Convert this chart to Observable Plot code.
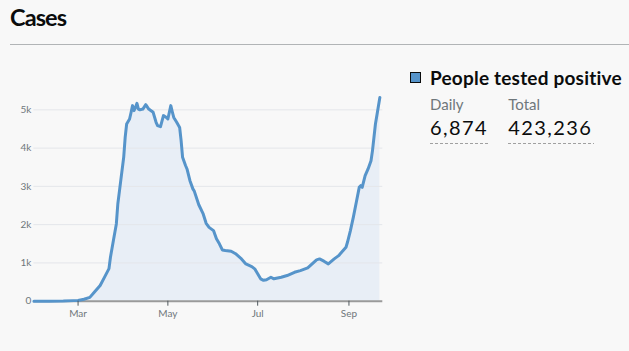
<!DOCTYPE html>
<html>
<head>
<meta charset="utf-8">
<script src="https://cdn.jsdelivr.net/npm/d3@7"></script>
<script src="https://cdn.jsdelivr.net/npm/@observablehq/plot@0.6"></script>
<style>
  html, body { margin: 0; padding: 0; }
  body { width: 629px; height: 351px; background: #f8f8f8; position: relative; overflow: hidden; font-family: Lato, "Noto Sans", sans-serif; color: #0b0c0c; }
  .abs { position: absolute; white-space: nowrap; line-height: 1; }
  #title { left: 10px; top: 6.3px; font-size: 23.5px; font-weight: 700; letter-spacing: -0.9px; }
  #rule { position: absolute; left: 10px; right: 0; top: 44px; height: 1px; background: #b1b4b6; }
  #swatch { position: absolute; left: 409.5px; top: 72.3px; width: 11px; height: 11px; box-sizing: border-box; background: #5694ca; border: 1px solid #0b0c0c; }
  #legend { left: 430px; top: 68.1px; font-size: 19px; font-weight: 700; letter-spacing: 0.2px; }
  .lab { top: 96.7px; font-size: 15px; color: #6f777b; }
  .num { top: 117.3px; font-size: 20px; color: #0b0c0c; letter-spacing: 1.4px; }
  .dash { position: absolute; top: 142.5px; height: 1px; background: repeating-linear-gradient(to right, #a0a0a0 0 3px, transparent 3px 5px); }
  #chart { position: absolute; left: 0; top: 50px; }
</style>
</head>
<body>
<div id="title" class="abs">Cases</div>
<div id="rule"></div>
<div id="swatch"></div>
<div id="legend" class="abs">People tested positive</div>
<div class="abs lab" style="left:430px">Daily</div>
<div class="abs lab" style="left:508.3px">Total</div>
<div class="abs num" style="left:430px">6,874</div>
<div class="abs num" style="left:508.3px">423,236</div>
<div class="dash" style="left:430px;width:58px"></div>
<div class="dash" style="left:508px;width:86px"></div>
<div id="chart"></div>
<script>
const dates = [
  "2020-01-31","2020-02-10","2020-02-20","2020-02-27","2020-03-01","2020-03-05","2020-03-09","2020-03-12",
  "2020-03-16","2020-03-19","2020-03-22","2020-03-23","2020-03-25","2020-03-27","2020-03-28","2020-03-30",
  "2020-04-01","2020-04-02","2020-04-03","2020-04-05","2020-04-06","2020-04-07","2020-04-08","2020-04-09",
  "2020-04-10","2020-04-11","2020-04-12","2020-04-14","2020-04-16","2020-04-18","2020-04-21","2020-04-23",
  "2020-04-24","2020-04-26","2020-04-28","2020-04-30","2020-05-01","2020-05-03","2020-05-04","2020-05-05",
  "2020-05-07","2020-05-09","2020-05-10","2020-05-11","2020-05-13","2020-05-14","2020-05-16","2020-05-18",
  "2020-05-19","2020-05-22","2020-05-25","2020-05-27","2020-05-29","2020-06-01","2020-06-03","2020-06-05",
  "2020-06-07","2020-06-09","2020-06-13","2020-06-16","2020-06-20","2020-06-23","2020-06-27","2020-06-29",
  "2020-07-01","2020-07-03","2020-07-05","2020-07-07","2020-07-10","2020-07-12","2020-07-17","2020-07-21",
  "2020-07-26","2020-07-30","2020-08-04","2020-08-07","2020-08-10","2020-08-12","2020-08-15","2020-08-18",
  "2020-08-22","2020-08-25","2020-08-27","2020-08-30","2020-08-31","2020-09-02","2020-09-04","2020-09-06",
  "2020-09-08","2020-09-09","2020-09-10","2020-09-12","2020-09-14","2020-09-16","2020-09-17","2020-09-19",
  "2020-09-22"
];
const cases = [
  0,0,5,15,20,50,100,235,
  410,630,850,1150,1585,2020,2540,3150,
  3760,4280,4630,4760,4930,5110,4980,5060,
  5170,5020,5000,5020,5135,5020,4935,4675,
  4590,4560,4850,4800,4760,5110,4950,4800,
  4675,4540,4195,3760,3545,3455,3150,2935,
  2870,2520,2280,2035,1930,1845,1630,1500,
  1340,1325,1305,1240,1105,975,905,845,
  715,585,545,560,625,585,625,670,
  755,800,870,975,1080,1105,1045,975,
  1105,1190,1280,1410,1540,1845,2195,2585,
  2975,3020,2975,3280,3455,3670,3935,4630,
  5325
];
const xTicks = ["2020-03-01","2020-05-01","2020-07-01","2020-09-01"];
const yTicks = [0,1000,2000,3000,4000,5000];
const xDomain = ["2020-01-31","2020-09-24"];

const data = dates.map((d, i) => ({date: new Date(d), value: cases[i]}));
const fmtK = v => v === 0 ? "0" : (v / 1000) + "k";

const chart = Plot.plot({
  width: 395,
  height: 280,
  marginLeft: 33.4,
  marginRight: 12.7,
  marginTop: 40.2,
  marginBottom: 29.3,
  style: {background: "transparent", fontFamily: "Lato, 'Noto Sans', sans-serif", fontSize: "10px", color: "#6f777b"},
  x: {type: "utc", domain: xDomain.map(d => new Date(d))},
  y: {domain: [0, 5500]},
  marks: [
    Plot.areaY(data, {x: "date", y: "value", fill: "#e8eef6"}),
    Plot.gridY(yTicks.filter(v => v > 0), {stroke: "#e4e6ea", strokeOpacity: 1}),
    Plot.ruleY([0], {stroke: "#9a9a9a", strokeWidth: 2}),
    Plot.lineY(data, {x: "date", y: "value", stroke: "#5694ca", strokeWidth: 3, strokeLinejoin: "round"}),
    Plot.axisY({ticks: yTicks, tickFormat: fmtK, tickSize: 0, tickPadding: 2.5, label: null, fill: "#6f777b"}),
    Plot.axisX({ticks: xTicks.map(d => new Date(d)), tickFormat: d3.utcFormat("%b"), tickSize: 5, tickPadding: 4, label: null, stroke: "#505a5f", fill: "#6f777b"})
  ]
});
document.getElementById("chart").appendChild(chart);
</script>
</body>
</html>
